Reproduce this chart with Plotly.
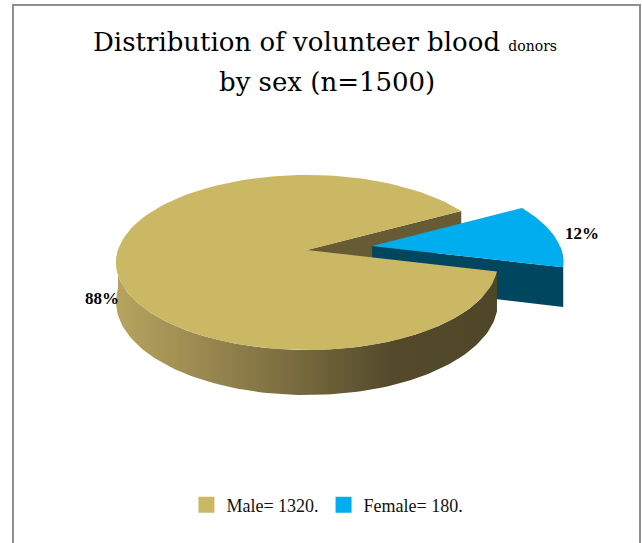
import numpy as np
import plotly.graph_objects as go

# ---- data ----
categories = ["Male", "Female"]
counts = [1320, 180]
top_colors = ["#cbb865", "#00aeef"]
wall_colors = ["#665b34", "#00465f"]
side_colorscales = [
    [[0.0, "#b6a45f"], [0.22, "#9b8951"], [0.5, "#74673c"], [0.72, "#544a2b"], [1.0, "#4f4628"]],
    [[0.0, "#00465f"], [1.0, "#00465f"]],
]
explode = [0.0, 0.35]
title_main = "Distribution of volunteer blood"
title_small = "donors"
title_line2 = "by sex (n=1500)"

# ---- drawing geometry (pixel space) ----
W, H = 642, 543
CX, CY = 307, 250        # centre of the top face
RX, RY = 189, 85.7       # radii of the top ellipse
PERSP = 0.143            # far side drawn smaller
THICK = 38.6             # pie height
FIRST_ANGLE = -14.0      # first slice starts here, slices run clockwise

total = sum(counts)
shares = [c / total for c in counts]


def proj(u, v, h):
    w = 1 + PERSP * v
    return CX + RX * u / w, CY - RY * v / w + THICK * h / w


def arc(t_from, t_to, ox, oy, h, n=120):
    ts = np.radians(np.linspace(t_from, t_to, n))
    pts = [proj(np.cos(t) + ox, np.sin(t) + oy, h) for t in ts]
    return [p[0] for p in pts], [p[1] for p in pts]


slices = []
a = FIRST_ANGLE
for i, s in enumerate(shares):
    t1, t2 = a, a - 360 * s
    mid = np.radians((t1 + t2) / 2)
    ox, oy = explode[i] * np.cos(mid), explode[i] * np.sin(mid)
    slices.append(dict(t1=t1, t2=t2, mid=mid, ox=ox, oy=oy))
    a = t2

fig = go.Figure()


def poly(xs, ys, **kw):
    fig.add_trace(go.Scatter(x=list(xs) + [xs[0]], y=list(ys) + [ys[0]], mode="lines",
                             fill="toself", line=dict(width=0), hoverinfo="skip",
                             showlegend=False, **kw))


def wall(i):
    s = slices[i]
    for ang, sign in ((s["t1"], 1), (s["t2"], -1)):
        if sign * np.cos(np.radians(ang)) < 0:
            t = np.radians(ang)
            pts = [proj(s["ox"], s["oy"], 0),
                   proj(np.cos(t) + s["ox"], np.sin(t) + s["oy"], 0),
                   proj(np.cos(t) + s["ox"], np.sin(t) + s["oy"], 1),
                   proj(s["ox"], s["oy"], 1)]
            poly([p[0] for p in pts], [p[1] for p in pts], fillcolor=wall_colors[i])


def side(i):
    s = slices[i]
    lo, hi = s["t2"], s["t1"]
    for k in range(-2, 2):
        f0, f1 = -180 + 360 * k, 0 + 360 * k
        a0, a1 = max(lo, f0), min(hi, f1)
        if a1 > a0:
            xt, yt = arc(a0, a1, s["ox"], s["oy"], 0)
            xb, yb = arc(a1, a0, s["ox"], s["oy"], 1)
            fig.add_trace(go.Scatter(
                x=xt + xb + [xt[0]], y=yt + yb + [yt[0]], mode="lines", fill="toself",
                line=dict(width=0), hoverinfo="skip", showlegend=False,
                fillgradient=dict(type="horizontal", colorscale=side_colorscales[i])))


def top(i):
    s = slices[i]
    ax, ay = proj(s["ox"], s["oy"], 0)
    xs, ys = arc(s["t1"], s["t2"], s["ox"], s["oy"], 0)
    poly([ax] + xs, [ay] + ys, fillcolor=top_colors[i])


# back-to-front painting
wall(0)
wall(1)
side(1)
top(1)
side(0)
top(0)

# percentage labels
label_pos = [(1.07, 36), (1.16, 0)]
for i, s in enumerate(slices):
    r, dy = label_pos[i]
    lx, ly = proj(r * np.cos(s["mid"]) + s["ox"], r * np.sin(s["mid"]) + s["oy"], 0)
    fig.add_annotation(x=lx, y=ly + dy, text=f"<b>{round(100 * shares[i])}%</b>",
                       showarrow=False, font=dict(family="Liberation Serif", size=17, color="#000"))

# legend entries
for i, name in enumerate(categories):
    fig.add_trace(go.Scatter(x=[None], y=[None], mode="markers", name=f"{name}= {counts[i]}.",
                             marker=dict(symbol="square", size=17, color=top_colors[i])))

# title
fig.add_annotation(x=W / 2 + 4, y=42,
                   text=f"{title_main} <span style='font-size:14px'>{title_small}</span>",
                   showarrow=False, font=dict(family="DejaVu Serif", size=26, color="#000"))
fig.add_annotation(x=W / 2 + 6, y=82, text=title_line2, showarrow=False,
                   font=dict(family="DejaVu Serif", size=26, color="#000"))

# chart frame
fig.add_shape(type="rect", x0=13, x1=640, y0=5, y1=H + 10, xref="x", yref="y",
              line=dict(color="#8f8f8f", width=2), fillcolor="rgba(0,0,0,0)")

fig.update_layout(
    width=W, height=H, margin=dict(l=0, r=0, t=0, b=0, pad=0),
    paper_bgcolor="white", plot_bgcolor="white",
    xaxis=dict(range=[0, W], visible=False, fixedrange=True),
    yaxis=dict(range=[H, 0], visible=False, fixedrange=True),
    legend=dict(orientation="h", x=0.51, xanchor="center", y=(H - 505) / H, yanchor="middle",
                font=dict(family="Liberation Serif", size=18, color="#111"),
                bgcolor="rgba(0,0,0,0)"),
)

fig.write_html("out.html")
